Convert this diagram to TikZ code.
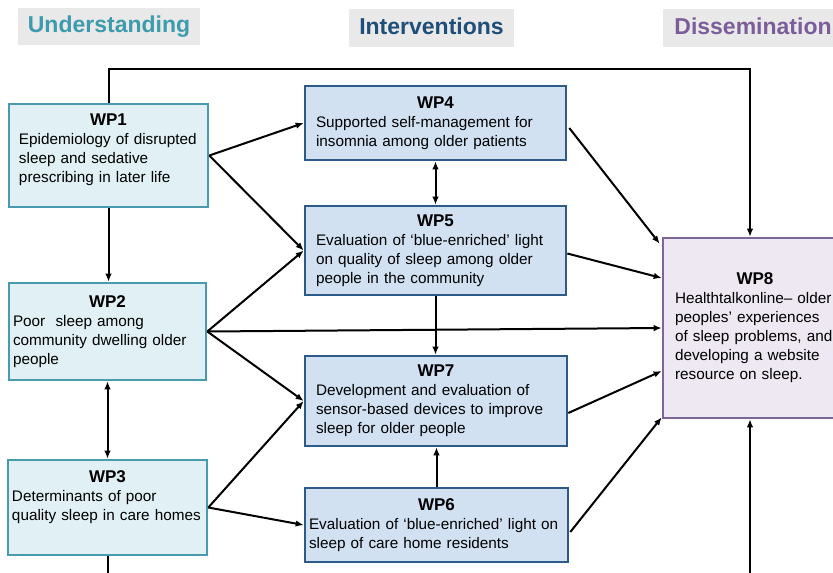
\documentclass[tikz,border=0pt]{standalone}
\usepackage{fontspec}
\setmainfont{Liberation Sans}
\usetikzlibrary{calc,arrows.meta}
\definecolor{headgray}{HTML}{E9E9E9}
\definecolor{underteal}{HTML}{3D9BAD}
\definecolor{intervblue}{HTML}{1F4E79}
\definecolor{dissempurple}{HTML}{7B5E99}
\definecolor{underfill}{HTML}{E1F0F5}
\definecolor{underdraw}{HTML}{4A9AAE}
\definecolor{intervfill}{HTML}{D1E1F2}
\definecolor{intervdraw}{HTML}{2E5A88}
\definecolor{dissemfill}{HTML}{EDE8F1}
\definecolor{dissemdraw}{HTML}{7D6598}
\newcommand{\wphead}[1]{\makebox[\linewidth]{\bfseries\fontsize{17}{19}\selectfont #1}\\}
\tikzset{
	% ------- every something
	every node/.style={
		font=\fontsize{15.3}{19}\selectfont,
	},
	% ------- custom
	heading/.style={
		fill=headgray,
		font=\bfseries\fontsize{23}{26}\selectfont,
		text height=17pt, text depth=5pt,
		inner sep=0pt,
	},
	wpbox/.style={
		draw, line width=2.6pt,
		align=left,
		inner ysep=0pt,
	},
	understanding/.style={
		wpbox, draw=underdraw, fill=underfill,
	},
	intervention/.style={
		wpbox, draw=intervdraw, fill=intervfill,
	},
	dissemination/.style={
		wpbox, draw=dissemdraw, fill=dissemfill,
	},
	flow/.style={
		line width=2pt,
		-{Latex[length=8pt,width=6.5pt]},
	},
	twoway/.style={
		line width=2pt,
		{Latex[length=8pt,width=6.5pt]}-{Latex[length=8pt,width=6.5pt]},
	},
}
\begin{document}
\begin{tikzpicture}[x=1pt,y=-1pt]

\useasboundingbox (0,0) rectangle (833,573);

% column headings %{{{2

	\node[heading, text=underteal, minimum width=182pt, minimum height=37pt]
		(understandhead) at (109,26.5) {Understanding};
	\node[heading, text=intervblue, minimum width=165pt, minimum height=38pt]
		(interventhead) at (431.5,28) {Interventions};
	\node[heading, text=dissempurple, minimum width=180pt, minimum height=38pt]
		(dissemhead) at (753,28) {Dissemination};

% understanding boxes %{{{2

	\node[understanding, inner xsep=10pt, text width=179pt, minimum height=103pt]
		(wp1) at (108.5,155.5)
		{\wphead{WP1}Epidemiology of disrupted\\sleep and sedative\\prescribing in later life\\[-5pt]\mbox{}};
	\node[understanding, inner xsep=4pt, text width=189pt, minimum height=97pt]
		(wp2) at (107.5,331.5)
		{\wphead{WP2}Poor\ \ sleep among\\community dwelling older\\people};
	\node[understanding, inner xsep=4pt, text width=191pt, minimum height=95pt]
		(wp3) at (107.5,507.5)
		{\wphead{WP3}Determinants of poor\\quality sleep in care homes\\[5pt]\mbox{}};

% intervention boxes %{{{2

	\node[intervention, inner xsep=11pt, text width=239pt, minimum height=74pt]
		(wp4) at (435.5,123)
		{\wphead{WP4}Supported self-management for\\insomnia among older patients};
	\node[intervention, inner xsep=11pt, text width=239pt, minimum height=89pt]
		(wp5) at (435.5,250.5)
		{\wphead{WP5}Evaluation of ‘blue-enriched’ light\\on quality of sleep among older\\people in the community};
	\node[intervention, inner xsep=11pt, text width=240pt, minimum height=90pt]
		(wp7) at (436,401)
		{\wphead{WP7}Development and evaluation of\\sensor-based devices to improve\\sleep for older people};
	\node[intervention, inner xsep=4pt, text width=255pt, minimum height=74pt]
		(wp6) at (436.5,525)
		{\wphead{WP6}Evaluation of ‘blue-enriched’ light on\\sleep of care home residents};

% dissemination box %{{{2

	\node[dissemination, inner xsep=12pt, text width=160pt, minimum height=180pt]
		(wp8) at (755,328)
		{\wphead{WP8}Healthtalkonline– older\\peoples’ experiences\\of sleep problems, and\\developing a website\\resource on sleep.};

% loops round the outside %{{{2

	\draw[flow] (wp1.north) -- ++(0,-34) -| ($(wp8.north)+(-5,0)$);
	\draw[flow] (wp3.south) -- ++(0,40) -| ($(wp8.south)+(-5,0)$);

% understanding links %{{{2

	\draw[flow] (wp1.south) -- (wp1.south |- wp2.north);
	\draw[twoway] (wp2.south) -- (wp2.south |- wp3.north);

	\draw[flow] (wp1.east) -- (wp4.west);
	\draw[flow] (wp1.east) -- (wp5.west);
	\draw[flow] (wp2.east) -- (wp5.west);
	\draw[flow] (wp2.east) -- (wp7.west);
	\draw[flow] (wp2.east) -- (wp8.west);
	\draw[flow] (wp3.east) -- (wp7.west);
	\draw[flow] (wp3.east) -- (wp6.west);

% intervention links %{{{2

	\draw[twoway] (wp4.south) -- (wp4.south |- wp5.north);
	\draw[flow] (wp5.south) -- (wp5.south |- wp7.north);
	\draw[flow] (wp6.north) -- (wp6.north |- wp7.south);

% into dissemination %{{{2

	\draw[flow] ($(wp4.east)+(2,5)$) -- ($(wp8.north west)+(-2,7)$);
	\draw[flow] ($(wp5.east)+(0,3)$) -- ($(wp8.west)+(0,-50)$);
	\draw[flow] ($(wp7.east)+(0,12)$) -- ($(wp8.west)+(0,43)$);
	\draw[flow] ($(wp6.east)+(1,7)$) -- ($(wp8.south west)+(0,-2)$);

\end{tikzpicture}
\end{document}
